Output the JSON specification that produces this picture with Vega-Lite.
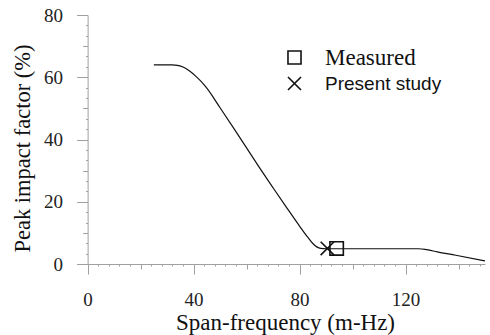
{
  "$schema": "https://vega.github.io/schema/vega-lite/v6.json",
  "autosize": {"type": "none"},
  "padding": {"left": 77, "top": 15, "right": 5, "bottom": 71},
  "width": 408,
  "height": 249,
  "background": "white",
  "config": {"view": {"stroke": null}},
  "datasets": {
    "curve": [
      {"f": 25, "p": 64}, {"f": 32, "p": 64}, {"f": 34, "p": 63.8}, {"f": 36, "p": 63.3},
      {"f": 38.5, "p": 62}, {"f": 41, "p": 60.2}, {"f": 43, "p": 58.5}, {"f": 45, "p": 56.5},
      {"f": 50, "p": 50.2}, {"f": 55, "p": 43.8}, {"f": 60, "p": 37.3}, {"f": 65, "p": 30.8},
      {"f": 70, "p": 24.5}, {"f": 75, "p": 18.3}, {"f": 80, "p": 12.2}, {"f": 83, "p": 8.7},
      {"f": 85, "p": 6.6}, {"f": 86.5, "p": 5.5}, {"f": 88, "p": 5.0}, {"f": 90, "p": 4.9},
      {"f": 125, "p": 4.9}, {"f": 128, "p": 4.6}, {"f": 132, "p": 3.9}, {"f": 139, "p": 2.8},
      {"f": 150, "p": 1.0}
    ],
    "points": [
      {"f": 94, "p": 5, "series": "Measured"},
      {"f": 90.5, "p": 5, "series": "Present study"}
    ]
  },
  "encoding": {
    "x": {
      "field": "f", "type": "quantitative",
      "scale": {"domain": [-4, 150], "nice": false, "zero": false},
      "axis": {
        "title": "Span-frequency (m-Hz)",
        "values": [0,4,8,12,16,20,24,28,32,36,40,44,48,52,56,60,64,68,72,76,80,84,88,92,96,100,104,108,112,116,120,124,128,132,136,140,144,148],
        "labelExpr": "datum.value % 40 == 0 ? datum.label : ''",
        "tickSize": {"condition": [{"test": "datum.value % 40 == 0", "value": 10}, {"test": "datum.value % 20 == 0", "value": 5}], "value": 2},
        "domainColor": "#a0a0a0", "tickColor": "#a0a0a0", "grid": false,
        "labelFont": "Liberation Serif", "labelFontSize": 19, "labelColor": "#222", "labelPadding": 16,
        "labelFlush": false, "labelOverlap": false,
        "titleFont": "Liberation Serif", "titleFontSize": 23, "titleFontWeight": "normal", "titleColor": "#111",
        "titlePadding": 2, "titleX": 208
      }
    },
    "y": {
      "field": "p", "type": "quantitative",
      "scale": {"domain": [0, 80], "nice": false},
      "axis": {
        "title": "Peak impact factor (%)",
        "offset": -10.6,
        "values": [0,3.3333,6.6667,10,13.3333,16.6667,20,23.3333,26.6667,30,33.3333,36.6667,40,43.3333,46.6667,50,53.3333,56.6667,60,63.3333,66.6667,70,73.3333,76.6667,80],
        "labelExpr": "abs(datum.value/20 - round(datum.value/20)) < 0.001 ? format(datum.value, 'd') : ''",
        "tickSize": {"condition": [{"test": "abs(datum.value/20 - round(datum.value/20)) < 0.001", "value": 11}, {"test": "abs(datum.value/10 - round(datum.value/10)) < 0.001", "value": 5}], "value": 2},
        "domainColor": "#a0a0a0", "tickColor": "#a0a0a0", "grid": false,
        "labelFont": "Liberation Serif", "labelFontSize": 19, "labelColor": "#222", "labelPadding": 14,
        "labelFlush": false, "labelOverlap": false,
        "titleFont": "Liberation Serif", "titleFontSize": 22.5, "titleFontWeight": "normal", "titleColor": "#111",
        "titlePadding": 9, "titleY": 133
      }
    }
  },
  "layer": [
    {
      "data": {"name": "curve"},
      "mark": {"type": "line", "color": "#111", "strokeWidth": 1.2, "interpolate": "monotone"}
    },
    {
      "data": {"name": "points"},
      "mark": {"type": "point", "filled": false, "color": "#111", "strokeWidth": 1.6, "size": 180, "opacity": 1},
      "encoding": {
        "shape": {
          "field": "series", "type": "nominal",
          "scale": {"domain": ["Measured", "Present study"], "range": ["square", "M-1,-1L1,1M1,-1L-1,1"]},
          "legend": {
            "title": null, "orient": "none", "legendX": 208, "legendY": 33, "padding": 0,
            "symbolSize": 170, "symbolStrokeWidth": 1.6, "symbolStrokeColor": "#111", "symbolFillColor": "transparent",
            "labelOffset": 21, "rowPadding": 3,
            "labelFont": {"expr": "datum.value == 'Measured' ? 'Liberation Serif' : 'Liberation Sans'"},
            "labelFontSize": {"expr": "datum.value == 'Measured' ? 23 : 19"},
            "labelColor": "#111", "labelLimit": 300
          }
        }
      }
    }
  ]
}
